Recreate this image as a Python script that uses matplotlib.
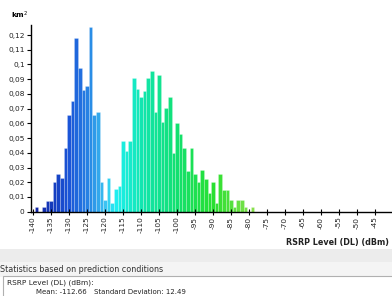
import numpy as np
import matplotlib
import matplotlib.pyplot as plt
from matplotlib.colors import LinearSegmentedColormap
from matplotlib.patches import Rectangle

# RSRP histogram (km2 per 1 dB bin)
rsrp = np.arange(-140, -78)
area = [0, 0.003, 0, 0.003, 0.0075, 0.0075, 0.02, 0.0255, 0.0227, 0.043,
        0.0655, 0.0755, 0.118, 0.0977, 0.0827, 0.0857, 0.1257, 0.0655, 0.068, 0.02,
        0.008, 0.0227, 0.0057, 0.0152, 0.0177, 0.0477, 0.041, 0.048, 0.0905, 0.083,
        0.0777, 0.0818, 0.0905, 0.0955, 0.068, 0.093, 0.0607, 0.0705, 0.0777, 0.040,
        0.0605, 0.053, 0.043, 0.0277, 0.043, 0.0255, 0.0205, 0.028, 0.0223, 0.013,
        0.0205, 0.0057, 0.0255, 0.015, 0.015, 0.008, 0.003, 0.008, 0.008, 0.003,
        0, 0.003]
yticks = np.arange(0, 0.121, 0.01)
ytick_labels = ['0', '0,01', '0,02', '0,03', '0,04', '0,05', '0,06', '0,07',
                '0,08', '0,09', '0,1', '0,11', '0,12']
xticks = np.arange(-140, -44, 5)

mean_txt = 'Mean: -112.66'
std_txt = 'Standard Deviation: 12.49'

# colour ramp of the legend (dBm -> colour)
cdb = [-140, -130, -124, -120, -117, -110, -100, -90, -78]
ccol = ['#1020a0', '#1a55d8', '#2a8ce6', '#3cc4f2', '#1ef0f0', '#12e6b0',
        '#12e070', '#28e030', '#90e050']
cm = LinearSegmentedColormap.from_list(
    'rsrp', [((d - cdb[0]) / (cdb[-1] - cdb[0]), c) for d, c in zip(cdb, ccol)])
cols = [cm((v - cdb[0]) / (cdb[-1] - cdb[0])) for v in rsrp]

plt.rcParams['font.family'] = ['DejaVu Sans']
W, H = 392, 296
fig = plt.figure(figsize=(W / 100, H / 100), dpi=100)
ax = fig.add_axes([31 / W, 1 - 211.7 / H, 1 - 31 / W, (211.7 - 25) / H])

ax.bar(rsrp, area, width=1.0, color=cols, edgecolor=(1, 1, 1, 0.35), linewidth=0.4)
ax.set_xlim(-140.55, -40.3)
ax.set_ylim(0, 0.1268)
ax.set_yticks(yticks)
ax.set_yticklabels(ytick_labels, fontsize=5.3, color='#222222')
ax.set_xticks(xticks)
ax.set_xticklabels([str(t) for t in xticks], rotation=90, fontsize=5.3, color='#222222')
ax.tick_params(axis='y', length=3, width=0.8, pad=1.5)
ax.tick_params(axis='x', length=4, width=0.8, direction='inout', pad=1.5)
for s in ['top', 'right']:
    ax.spines[s].set_visible(False)
for s in ['left', 'bottom']:
    ax.spines[s].set_linewidth(1.0)

fig.text(11 / W, 1 - 15 / H, 'km$^2$', fontsize=5.3, fontweight='bold', va='center', ha='left')
fig.text(389 / W, 1 - 243 / H, 'RSRP Level (DL) (dBm)', fontsize=5.8, fontweight='bold',
         va='center', ha='right', color='#222222')

# statistics panel below the chart
fig.add_artist(Rectangle((0, 1 - 262 / H), 1, 13 / H, transform=fig.transFigure,
                         facecolor='#ececec', edgecolor='none'))
fig.add_artist(Rectangle((0, 1 - 277 / H), 1, 15 / H, transform=fig.transFigure,
                         facecolor='#f4f4f4', edgecolor='none'))
fig.add_artist(Rectangle((3 / W, -0.05), 1, (296 - 276 + 15) / H, transform=fig.transFigure,
                         facecolor='white', edgecolor='#b0b0b0', linewidth=0.8))
fig.text(0.5 / W, 1 - 269 / H, 'Statistics based on prediction conditions', fontsize=5.8,
         va='center', ha='left', color='#333333')
fig.text(7 / W, 1 - 283 / H, 'RSRP Level (DL) (dBm):', fontsize=5.3, va='center',
         ha='left', color='#222222')
fig.text(36 / W, 1 - 291.5 / H, mean_txt, fontsize=5.0, va='center', ha='left', color='#222222')
fig.text(94 / W, 1 - 291.5 / H, std_txt, fontsize=5.0, va='center', ha='left', color='#222222')

fig.savefig('out.png', dpi=100)
